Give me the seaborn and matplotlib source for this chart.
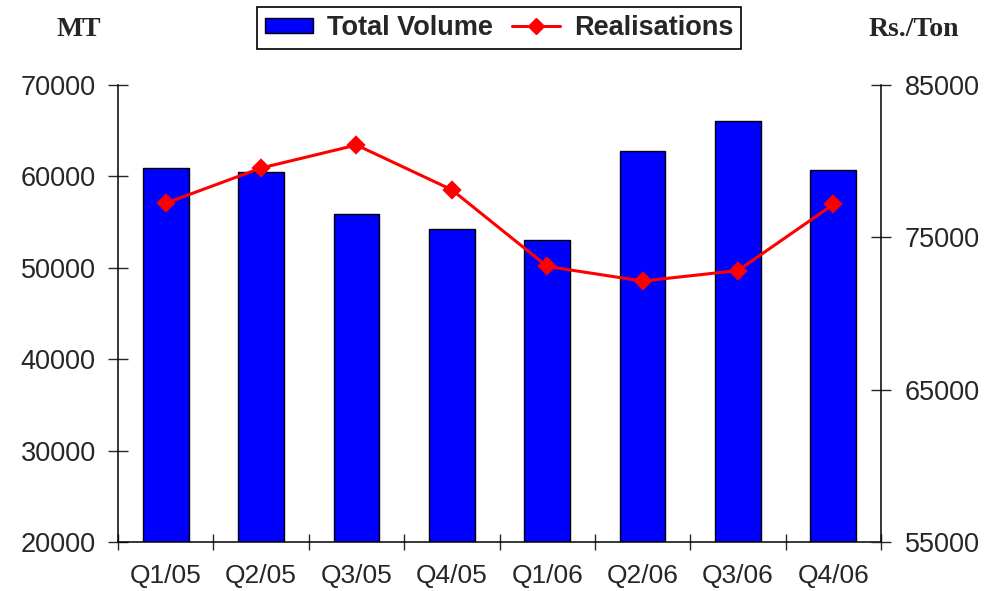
import numpy as np
import pandas as pd
import matplotlib
matplotlib.use("Agg")
import matplotlib.pyplot as plt
import seaborn as sns
from matplotlib.patches import Patch
from matplotlib.lines import Line2D

quarters = ["Q1/05", "Q2/05", "Q3/05", "Q4/05", "Q1/06", "Q2/06", "Q3/06", "Q4/06"]
total_volume = [60900, 60500, 55930, 54210, 53000, 62800, 66090, 60650]
realisations = [77240, 79550, 81060, 78120, 73090, 72130, 72820, 77160]
left_ticks = [20000, 30000, 40000, 50000, 60000, 70000]
right_ticks = [55000, 65000, 75000, 85000]

data = pd.DataFrame({"Quarter": quarters, "Total Volume": total_volume,
                     "Realisations": realisations})

sns.set_style("white")
plt.rcParams["font.family"] = ["Liberation Sans", "DejaVu Sans"]

fig = plt.figure(figsize=(9.88, 5.91), dpi=100)
ax = fig.add_axes([118 / 988, 1 - 542 / 591, (881 - 118) / 988, (542 - 85) / 591])

sns.barplot(data=data, x="Quarter", y="Total Volume", color="#0000ff",
            saturation=1, width=0.48, edgecolor="black", linewidth=1, ax=ax)
ax.set_ylim(20000, 70000)
ax.set_xlim(-0.5, 7.5)

ax2 = ax.twinx()
sns.pointplot(data=data, x="Quarter", y="Realisations", color="red",
              markers="D", markersize=8, linewidth=2.2, ax=ax2)
ax2.set_ylim(55000, 85000)
ax2.set_xlim(-0.5, 7.5)

for a in (ax, ax2):
    a.set_xlabel("")
    a.set_ylabel("")
    a.spines["top"].set_visible(False)
    for s in ("left", "right", "bottom"):
        a.spines[s].set_color("black")
        a.spines[s].set_linewidth(1.1)

ax.spines["right"].set_visible(False)
ax2.spines["left"].set_visible(False)
ax2.spines["bottom"].set_visible(False)

ax.set_yticks(left_ticks)
ax.set_yticklabels([str(v) for v in left_ticks])
ax2.set_yticks(right_ticks)
ax2.set_yticklabels([str(v) for v in right_ticks])
ax.tick_params(axis="y", direction="inout", length=14, width=1, labelsize=19.5, pad=9)
ax2.tick_params(axis="y", direction="inout", length=14, width=1, labelsize=19.5, pad=10)

# category labels at centres, tick marks at boundaries
ax.set_xticks(range(len(quarters)))
ax.set_xticklabels(quarters)
ax.tick_params(axis="x", which="major", length=0, labelsize=19, pad=16)
ax.set_xticks(np.arange(-0.5, len(quarters), 1.0), minor=True)
ax.tick_params(axis="x", which="minor", direction="inout", length=12, width=1,
               bottom=True)
ax2.tick_params(axis="x", which="both", length=0, labelbottom=False)

fig.text(79 / 988, 1 - 30 / 591, "MT", ha="center", va="center",
         fontsize=20, fontweight="bold", family=["Liberation Serif", "DejaVu Serif"])
fig.text(914 / 988, 1 - 30 / 591, "Rs./Ton", ha="center", va="center",
         fontsize=20, fontweight="bold", family=["Liberation Serif", "DejaVu Serif"])

handles = [Patch(facecolor="#0000ff", edgecolor="black", linewidth=1),
           Line2D([], [], color="red", marker="D", markersize=8, linewidth=2.2)]
leg = fig.legend(handles, ["Total Volume", "Realisations"], loc="center",
                 bbox_to_anchor=(499 / 988, 1 - 28 / 591), ncol=2, frameon=True,
                 fancybox=False, edgecolor="black", framealpha=1,
                 prop={"weight": "bold", "size": 19.5}, handlelength=1.8,
                 handleheight=0.5, handletextpad=0.5, columnspacing=0.7,
                 borderpad=0.28, borderaxespad=0)
leg.get_frame().set_linewidth(1.2)

fig.savefig("out.png", dpi=100)
